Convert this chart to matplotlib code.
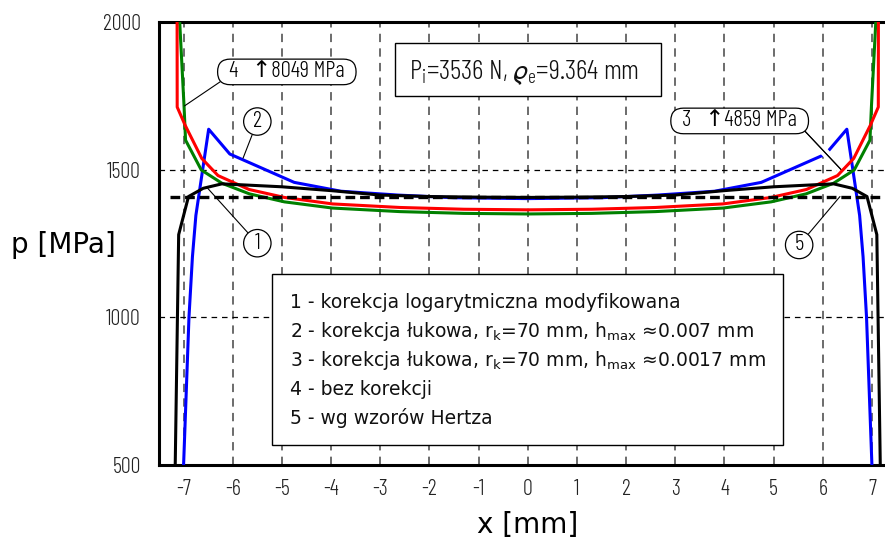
import matplotlib
matplotlib.use("Agg")
import matplotlib.pyplot as plt
from matplotlib.patches import Rectangle
import matplotlib.patheffects as pe

plt.rcParams['lines.scale_dashes'] = False

NARROW = ['Barlow Condensed', 'DejaVu Sans']
NW = 300
WIDE = ['DejaVu Sans']

# ---------------- data ----------------
# 1 - korekcja logarytmiczna modyfikowana (black)
x1 = [-7.17, -7.10, -6.90, -6.60, -6.22, -5.0, -4.0, -3.0, -2.0, -1.0, 0.0,
      1.0, 2.0, 3.0, 4.0, 5.0, 6.22, 6.60, 6.90, 7.10, 7.17]
p1 = [500, 1280, 1409, 1437, 1452, 1442, 1429, 1414, 1409, 1407, 1406,
      1407, 1409, 1414, 1429, 1442, 1452, 1437, 1409, 1280, 500]
# 2 - korekcja lukowa h=0.007 (blue)
x2 = [-7.00, -6.89, -6.82, -6.75, -6.49, -6.06, -4.75, -3.80, -2.64, -1.5, 0.0,
      1.5, 2.64, 3.80, 4.75, 6.06, 6.49, 6.75, 6.82, 6.89, 7.00]
p2 = [500, 1002, 1205, 1345, 1637, 1553, 1457, 1427, 1414, 1405, 1402,
      1405, 1414, 1427, 1457, 1553, 1637, 1345, 1205, 1002, 500]
# 3 - korekcja lukowa h=0.0017 (red), max 4859 MPa
x3 = [-7.15, -7.13, -6.97, -6.63, -6.30, -5.67, -4.95, -3.97, -2.60, -1.30, 0.0,
      1.30, 2.60, 3.97, 4.95, 5.67, 6.30, 6.63, 6.97, 7.13, 7.15]
p3 = [4859, 1712, 1651, 1538, 1480, 1433, 1406, 1384, 1372, 1366, 1364,
      1366, 1372, 1384, 1406, 1433, 1480, 1538, 1651, 1712, 4859]
# 4 - bez korekcji (green), max 8049 MPa
x4 = [-7.15, -7.11, -6.99, -6.96, -6.64, -6.22, -5.66, -4.95, -3.97, -2.60, -1.30, 0.0,
      1.30, 2.60, 3.97, 4.95, 5.66, 6.22, 6.64, 6.96, 6.99, 7.11, 7.15]
p4 = [8049, 2100, 1713, 1600, 1499, 1454, 1418, 1391, 1370, 1358, 1352, 1350,
      1352, 1358, 1370, 1391, 1418, 1454, 1499, 1600, 1713, 2100, 8049]
# 5 - wg wzorow Hertza (dashed)
x5 = [-7.27, 7.27]
p5 = [1409, 1409]

xticks = list(range(-7, 8))
yticks = [500, 1000, 1500, 2000]

legend_lines = [
    '1 - korekcja logarytmiczna modyfikowana',
    r'2 - korekcja łukowa, $\mathregular{r_k}$=70 mm, $\mathregular{h_{max}}$ ≈0.007 mm',
    r'3 - korekcja łukowa, $\mathregular{r_k}$=70 mm, $\mathregular{h_{max}}$ ≈0.0017 mm',
    '4 - bez korekcji',
    '5 - wg wzorów Hertza',
]

# ---------------- figure ----------------
fig = plt.figure(figsize=(8.85, 5.39), dpi=100)
ax = fig.add_axes([159 / 885, 74 / 539, (896.5 - 159) / 885, 443 / 539])
ax.set_xlim(-7.5, 7.5)
ax.set_ylim(500, 2000)

for s in ['left', 'top', 'bottom']:
    ax.spines[s].set_linewidth(2.2)
    ax.spines[s].set_color('black')
ax.spines['right'].set_visible(False)

ax.set_xticks(xticks)
ax.set_yticks(yticks)
ax.set_xticklabels([str(v) for v in xticks])
ax.set_yticklabels([str(v) for v in yticks])
ax.tick_params(axis='x', length=0, pad=10)
ax.tick_params(axis='y', length=0, pad=13)
for lab in ax.get_xticklabels() + ax.get_yticklabels():
    lab.set_family(NARROW)
    lab.set_fontweight(NW)
    lab.set_fontsize(16)
    lab.set_color('#222222')

for xv in xticks:
    ax.axvline(xv, color='#444444', lw=1.1, ls=(0, (6, 4.5)), zorder=1)
for yv in [1000, 1500]:
    ax.axhline(yv, color='black', lw=0.9, ls=(0, (4, 3.5)), zorder=1)

# curves
ax.plot(x2, p2, color='#0000ff', lw=2.2, zorder=4)
ax.plot(x4, p4, color='#008000', lw=2.2, zorder=5)
ax.plot(x3, p3, color='#ff0000', lw=2.2, zorder=5.2)
ax.plot(x1, p1, color='black', lw=2.2, zorder=5.4)
ax.plot(x5, p5, color='black', lw=2.4, ls=(0, (7, 3.5)), zorder=5.6)

# legend box
ax.add_patch(Rectangle((-5.20, 568), 10.40, 579, fc='white', ec='black', lw=1.0, zorder=3))
leg_base = [1032, 934, 835, 737, 639]
for txt, yb in zip(legend_lines, leg_base):
    ax.text(-4.84, yb, txt, fontsize=13.5, family=WIDE, va='baseline', ha='left', zorder=3.5,
            color='#111111')

# parameter box
ax.add_patch(Rectangle((-2.71, 1750), 5.41, 180, fc='white', ec='black', lw=1.0, zorder=3))
ax.text(-0.08, 1806, r'$\mathregular{P_i}$=3536 N, $\mathregular{ϱ_e}$=9.364 mm',
        fontsize=20, family=NARROW, fontweight=NW, ha='center', va='baseline', zorder=3.5,
        color='#111111')

# annotations
rbox = dict(boxstyle='round,pad=0.1,rounding_size=0.55', fc='white', ec='black', lw=0.9)
cbox = dict(boxstyle='circle,pad=0.14', fc='white', ec='black', lw=0.9)
arr = dict(arrowstyle='-', color='black', lw=0.8, shrinkA=0, shrinkB=0)
lab_kw = dict(ha='center', va='center', fontsize=16.5, family=NARROW, fontweight=NW)

ax.annotate('  4   ↑8049 MPa  ', xy=(-6.98, 1716), xytext=(-4.90, 1831),
            bbox=rbox, arrowprops=dict(arr, relpos=(0.03, 0.15)), zorder=6, **lab_kw)
ax.annotate('2', xy=(-5.79, 1539), xytext=(-5.50, 1663),
            bbox=cbox, arrowprops=arr, zorder=6, **lab_kw)
ax.annotate('1', xy=(-6.51, 1437), xytext=(-5.50, 1251),
            bbox=cbox, arrowprops=arr, zorder=6, **lab_kw)
a3 = ax.annotate('  3   ↑4859 MPa  ', xy=(6.38, 1499), xytext=(4.31, 1665),
                 bbox=rbox, arrowprops=dict(arr, relpos=(0.97, 0.15)), zorder=4.5, **lab_kw)
a3.arrow_patch.set_path_effects([pe.withStroke(linewidth=6, foreground='white'), pe.Normal()])
ax.annotate('5', xy=(6.35, 1409), xytext=(5.52, 1245),
            bbox=cbox, arrowprops=arr, zorder=6, **lab_kw)

fig.text(63 / 885, 1 - 245 / 539, 'p [MPa]', fontsize=20, family=WIDE, ha='center', va='center')
fig.text(528 / 885, 1 - 525 / 539, 'x [mm]', fontsize=20, family=WIDE, ha='center', va='center')

fig.savefig('out.png', dpi=100)
